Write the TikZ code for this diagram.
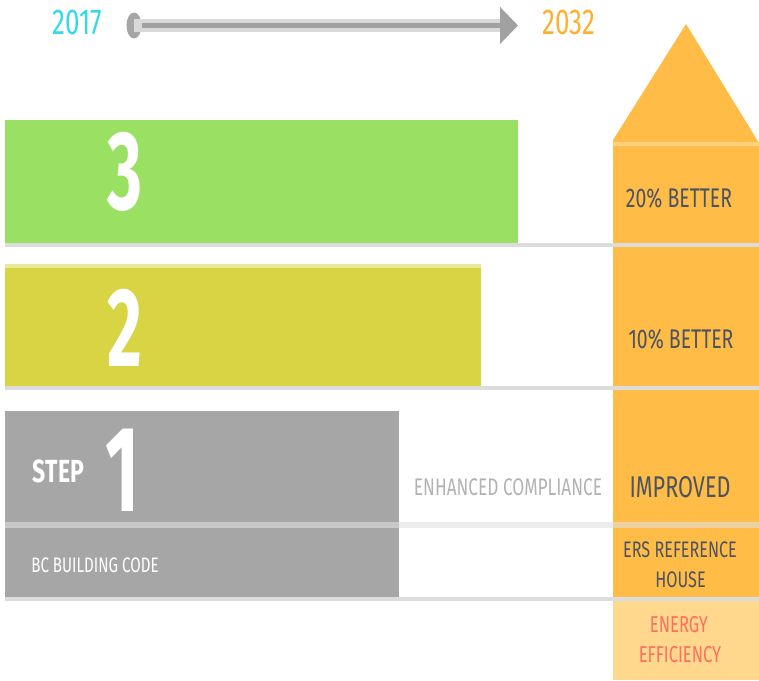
\documentclass[tikz,border=0pt]{standalone}
\usepackage{fontspec}
\setmainfont{Fira Sans}
\newfontfamily\condfont[FakeStretch=0.72]{Fira Sans}
\newfontfamily\digitfont[FakeStretch=0.6]{Fira Sans}
\usetikzlibrary{
	arrows.meta,
	shapes.geometric,
}
\definecolor{stepgreen}{HTML}{9AE163}
\definecolor{stepyellow}{HTML}{D9D444}
\definecolor{stepgray}{HTML}{A6A6A6}
\definecolor{house}{HTML}{FFBC46}
\definecolor{houselight}{HTML}{FFD88E}
\definecolor{roofline}{HTML}{FFD07C}
\definecolor{sepgray}{HTML}{DCDCDC}
\definecolor{darktext}{HTML}{4C5362}
\definecolor{redtext}{HTML}{FF6F5E}
\definecolor{startcyan}{HTML}{33D9E8}
\definecolor{endorange}{HTML}{FFB02E}
\tikzset{
	plain text/.style={
		inner sep=0pt,
		font={\fontsize{#1}{#1}\condfont},
	},
	year text/.style={plain text=36},
	column text/.style={plain text=#1, text=darktext},
	step digit/.style={
		inner sep=0pt,
		text=white,
		font={\fontsize{#1}{#1}\digitfont\bfseries},
	},
	separator/.style={line width=4pt, sepgray},
}

\begin{document}
\begin{tikzpicture}[x=1pt, y=-1pt]
\useasboundingbox (0,0) rectangle (759,680);

% timeline
\node[year text, text=startcyan] (y2017) at (77.5,22) {2017};
\node[year text, text=endorange] (y2032) at (569,22) {2032};
\node[ellipse, fill=stepgray, inner sep=0pt, minimum width=15pt, minimum height=26pt] (start) at (134,25.5) {};
\coordinate (headbase) at (500,25.5);
\coordinate (end) at (518,25.5);
\draw[line width=13pt, black!15] (start.center) -- (headbase);
\draw[line width=5pt, black!37, -{Triangle[length=18pt,width=36pt]}] (start) -- (end);

% house column
\fill[house] (613,140) -- (686,24) -- (759,143) -- (759,600) -- (613,600) -- cycle;
\draw[line width=4pt, roofline] (613,144) -- (759,144);
\fill[houselight] (613,601) rectangle (759,680);

% step bars
\fill[stepgreen] (5,120) rectangle (518,243);
\fill[stepyellow!55] (5,264) rectangle (481,268);
\fill[stepyellow] (5,268) rectangle (481,386);
\fill[stepgray] (5,411) rectangle (399,597);

\foreach \y in {245,388,599}{
	\draw[separator] (5,\y) -- (759,\y);
}
\draw[line width=6pt, black!12, opacity=0.6] (5,525) -- (759,525);

\node[step digit=112] (three) at (125,172) {3};
\node[step digit=112] (two) at (125,328) {2};
\node[step digit=122] (one) at (122,470) {1};
\node[plain text=32, text=white, font={\fontsize{32}{32}\condfont\bfseries}] (step) at (58.5,471) {STEP};
\node[plain text=21, text=white] (code) at (95,565.5) {BC BUILDING CODE};
\node[plain text=24, text=black!30] (enhanced) at (508,487) {ENHANCED COMPLIANCE};

% column labels
\node[column text=27] (better20) at (679,198.5) {20\% BETTER};
\node[column text=27] (better10) at (681,339.5) {10\% BETTER};
\node[column text=30] (improved) at (680,487) {IMPROVED};
\node[column text=22.5] (ers) at (680,549.5) {ERS REFERENCE};
\node[column text=22.5] (house) at (680.5,580) {HOUSE};
\node[plain text=23, text=redtext] (energy) at (679,625) {ENERGY};
\node[plain text=23, text=redtext] (efficiency) at (680,655) {EFFICIENCY};
\end{tikzpicture}
\end{document}
